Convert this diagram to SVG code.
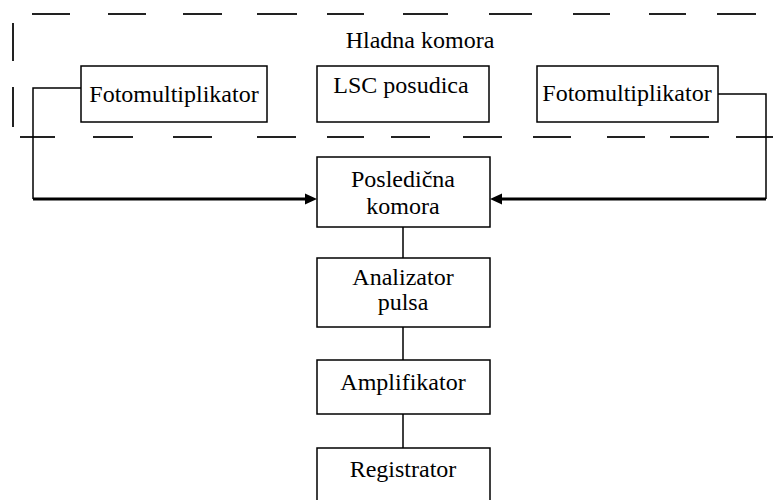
<svg xmlns="http://www.w3.org/2000/svg" width="778" height="500" viewBox="0 0 778 500">
<style>
.box{fill:#fff;stroke:#000;stroke-width:1.5}
.t{font-family:'Liberation Serif','Tinos','DejaVu Serif',serif;font-size:24px;fill:#000;text-anchor:middle}
.dash{stroke:#222;stroke-width:2;fill:none}
.ln{stroke:#000;stroke-width:1.5;fill:none}
.bold{stroke:#000;stroke-width:3;fill:none}
</style>
<g id="chamber-boundary">
<path class="dash" d="M32 14H70M108 14H146M183 14H222M257 14H297M327 14H364M403 14H448M489 14H532M573 14H610M649 14H686M717 14H756"/>
<path class="dash" d="M20 137H55M93 137H133M173 137H212M257 137H296M327 137H364M391 137H430M463 137H502M533 137H571M607 137H645M670 137H709M736 137H773"/>
<path class="dash" d="M13 23V61M13 87V127"/>
<text class="t" x="420" y="48">Hladna komora</text>
</g>
<g id="connectors">
<path class="ln" d="M81 88H33V199"/>
<path class="bold" d="M33 199H306"/>
<polygon points="317,199 305,193.5 305,204.5" fill="#000"/>
<path class="ln" d="M718 94H766V199"/>
<path class="bold" d="M766 199H501"/>
<polygon points="490,199 502,193.5 502,204.5" fill="#000"/>
<path class="ln" d="M403 227V258M403 327V360M403 414V448"/>
</g>
<g id="fotomultiplikator-left">
<rect class="box" x="81" y="66" width="186" height="56"/>
<text class="t" x="174" y="102">Fotomultiplikator</text>
</g>
<g id="lsc-posudica">
<rect class="box" x="317" y="66" width="172" height="56"/>
<text class="t" x="401" y="93">LSC posudica</text>
</g>
<g id="fotomultiplikator-right">
<rect class="box" x="537" y="66" width="181" height="56"/>
<text class="t" x="627" y="101">Fotomultiplikator</text>
</g>
<g id="posledicna-komora">
<rect class="box" x="317" y="157" width="173" height="70"/>
<text class="t" x="403" y="187">Posledična</text>
<text class="t" x="403" y="214">komora</text>
</g>
<g id="analizator-pulsa">
<rect class="box" x="317" y="258" width="173" height="69"/>
<text class="t" x="403" y="285">Analizator</text>
<text class="t" x="403" y="310">pulsa</text>
</g>
<g id="amplifikator">
<rect class="box" x="317" y="360" width="173" height="54"/>
<text class="t" x="403" y="390">Amplifikator</text>
</g>
<g id="registrator">
<rect class="box" x="317" y="448" width="173" height="60"/>
<text class="t" x="403" y="477">Registrator</text>
</g>
</svg>
